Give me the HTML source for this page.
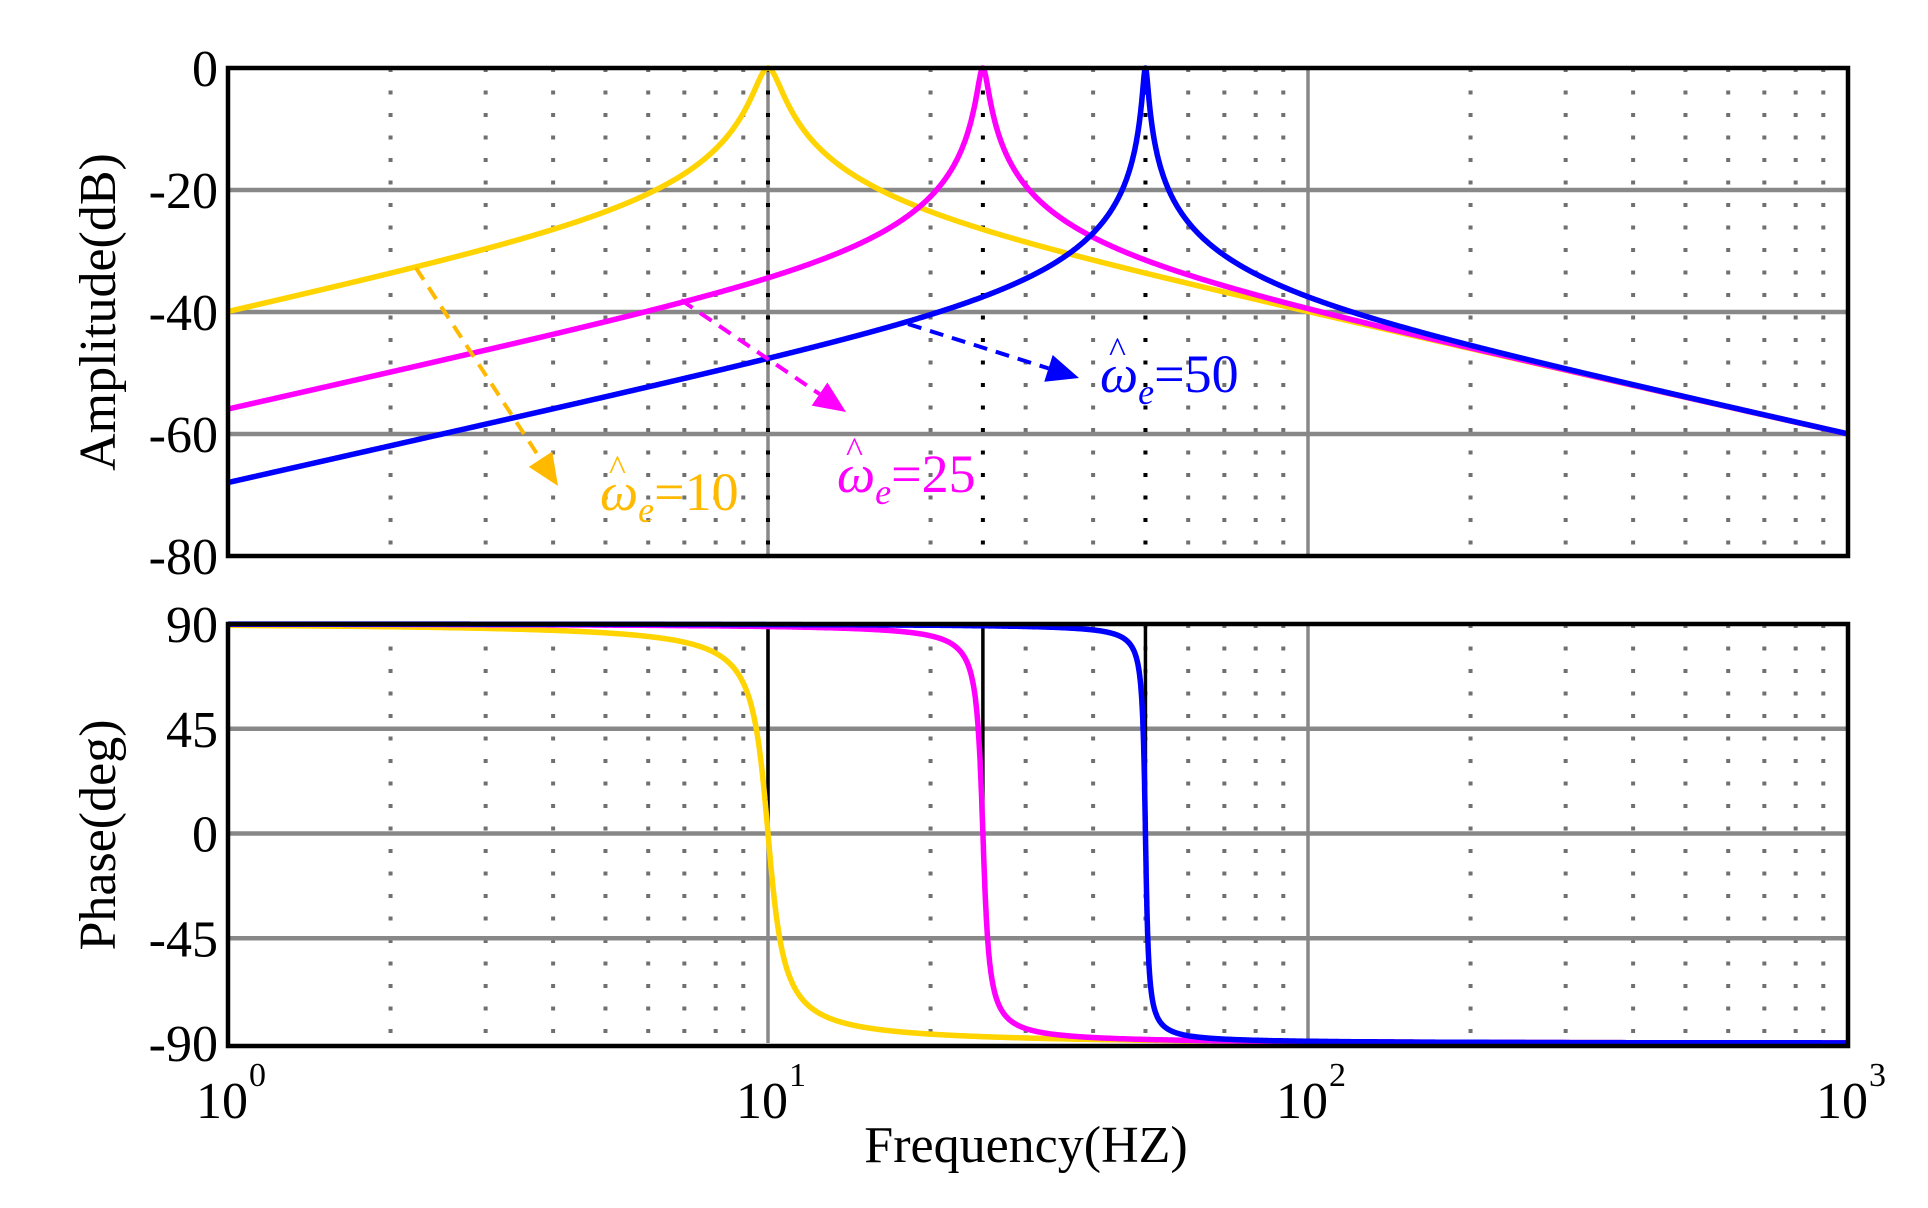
<!DOCTYPE html>
<html><head><meta charset="utf-8"><style>
html,body{margin:0;padding:0;background:#fff;}
svg{display:block;}
text{font-family:"Liberation Serif",serif;fill:#000;}
</style></head><body>
<svg id="s" width="1928" height="1208" viewBox="0 0 1928 1208" xmlns="http://www.w3.org/2000/svg"></svg>
<script>
const s=document.getElementById('s');
const NS='http://www.w3.org/2000/svg';
function el(t,a,txt){const e=document.createElementNS(NS,t);for(const k in a)e.setAttribute(k,a[k]);if(txt!==undefined)e.textContent=txt;s.appendChild(e);return e;}
const X0=228,X1=1848,DEC=540;
const fx=f=>X0+Math.log10(f)*DEC;
const T0=68,T1=556; const yA=d=>T0+(-d)/80*(T1-T0);
const B0=624,B1=1043; const yP=p=>B0+(90-p)/180*(B1-B0);
function grid(top,bot,ys){
  for(let d=0;d<3;d++)for(let m=2;m<=9;m++){const x=fx(m*Math.pow(10,d));
    el('line',{x1:x,y1:top,x2:x,y2:bot,stroke:'#707070','stroke-width':4,'stroke-dasharray':'4 18.5'});}
  for(const x of [fx(10),fx(100)])el('line',{x1:x,y1:top,x2:x,y2:bot,stroke:'#888','stroke-width':3.5});
  for(const y of ys)el('line',{x1:X0,y1:y,x2:X1,y2:y,stroke:'#888','stroke-width':4.5});
}
grid(T0,T1,[yA(-20),yA(-40),yA(-60)]);
for(const f of [10,25,50])el('line',{x1:fx(f),y1:T0,x2:fx(f),y2:T1,stroke:'#000','stroke-width':4,'stroke-dasharray':'4 18.5'});
grid(B0,B1,[yP(45),yP(0),yP(-45)]);
for(const f of [10,25,50])el('line',{x1:fx(f),y1:B0,x2:fx(f),y2:yP(0),stroke:'#000','stroke-width':3.5});
const cols={10:'#ffd400',25:'#ff00ff',50:'#0000ff'};
function resp(f,f0){const re=f0*f0-f*f,im=f;const mag=f/Math.hypot(re,im);return [20*Math.log10(mag),90-Math.atan2(im,re)*180/Math.PI];}
for(const f0 of [10,25,50]){
  let pa='',pp='';
  const N=3000;
  const pts=[];
  for(let i=0;i<=N;i++)pts.push(Math.pow(10,3*i/N));
  for(let j=-200;j<=200;j++)pts.push(f0+j*0.01);
  pts.sort((a,b)=>a-b);
  pts.forEach((f,i)=>{if(f<1||f>1000)return;const [m,p]=resp(f,f0);
    pa+=(pa?'L':'M')+fx(f).toFixed(1)+' '+Math.max(yA(m),T0).toFixed(1);
    pp+=(pp?'L':'M')+fx(f).toFixed(1)+' '+yP(p).toFixed(1);});
  el('path',{d:pa,fill:'none',stroke:cols[f0],'stroke-width':5.5,'stroke-linejoin':'round'});
  el('path',{d:pp,fill:'none',stroke:cols[f0],'stroke-width':5.5,'stroke-linejoin':'round'});
}
el('rect',{x:X0,y:T0,width:X1-X0,height:T1-T0,fill:'none',stroke:'#000','stroke-width':4.5});
el('rect',{x:X0,y:B0,width:X1-X0,height:B1-B0+3,fill:'none',stroke:'#000','stroke-width':4.5});
function arrow(x1,y1,x2,y2,c){
  const a=Math.atan2(y2-y1,x2-x1),L=32,W=14;
  const bx=x2-L*Math.cos(a),by=y2-L*Math.sin(a);
  el('line',{x1,y1,x2:bx,y2:by,stroke:c,'stroke-width':4,'stroke-dasharray':'14 9'});
  el('polygon',{points:`${x2},${y2} ${bx+W*Math.sin(a)},${by-W*Math.cos(a)} ${bx-W*Math.sin(a)},${by+W*Math.cos(a)}`,fill:c});
}
arrow(416,268,558,486,'#ffba00');
arrow(681,300,846,412,'#ff00ff');
arrow(908,324,1079,378,'#0000ff');
function lab(x,y,c,n){
  const t=el('text',{x,y,'font-size':54,fill:c});t.style.fill=c;
  const a=document.createElementNS(NS,'tspan');a.setAttribute('font-style','italic');a.textContent='ω';t.appendChild(a);
  const b=document.createElementNS(NS,'tspan');b.setAttribute('font-style','italic');b.setAttribute('font-size',36);b.setAttribute('dy',12);b.textContent='e';t.appendChild(b);
  const d=document.createElementNS(NS,'tspan');d.setAttribute('dy',-12);d.textContent='='+n;t.appendChild(d);
  const h=el('text',{x:x+9,y:y-30,'font-size':36,fill:c},'^');h.style.fill=c;
}
lab(600,510,'#ffba00','10');
lab(837,492,'#ff00ff','25');
lab(1100,392,'#0000ff','50');
const tf=52;
[[0,'0'],[-20,'-20'],[-40,'-40'],[-60,'-60'],[-80,'-80']].forEach(([v,t])=>el('text',{x:218,y:yA(v)+18,'font-size':tf,'text-anchor':'end'},t));
[[90,'90'],[45,'45'],[0,'0'],[-45,'-45'],[-90,'-90']].forEach(([v,t])=>el('text',{x:218,y:yP(v)+18,'font-size':tf,'text-anchor':'end'},t));
[0,1,2,3].forEach(d=>{const x=fx(Math.pow(10,d));
  el('text',{x:x+20,y:1118,'font-size':tf,'text-anchor':'end'},'10');
  el('text',{x:x+21,y:1086,'font-size':34},String(d));});
el('text',{x:1026,y:1162,'font-size':52,'text-anchor':'middle'},'Frequency(HZ)');
el('text',{x:0,y:0,'font-size':52,'text-anchor':'middle',transform:'translate(115,312) rotate(-90)'},'Amplitude(dB)');
el('text',{x:0,y:0,'font-size':52,'text-anchor':'middle',transform:'translate(115,835) rotate(-90)'},'Phase(deg)');
</script>
</body></html>
